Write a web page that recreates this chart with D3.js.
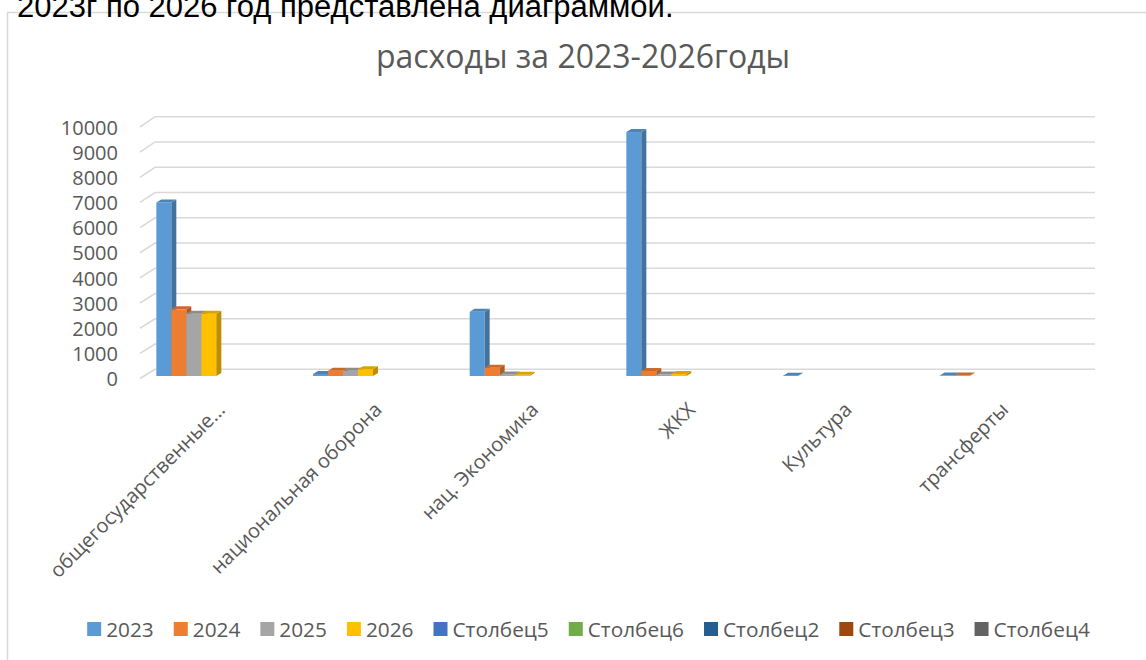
<!DOCTYPE html>
<html>
<head>
<meta charset="utf-8">
<script src="https://cdnjs.cloudflare.com/ajax/libs/d3/7.8.5/d3.min.js"></script>
<style>
    body { margin: 0; background: #ffffff; }
    svg { display: block; }
</style>
</head>
<body>
<div id="chart"></div>
<script>
var categories = ["общегосударственные...", "национальная оборона", "нац. Экономика", "ЖКХ", "Культура", "трансферты"];
var seriesNames = ["2023", "2024", "2025", "2026"];
var values2023 = [6900, 80, 2550, 9700, 10, 15];
var values2024 = [2650, 210, 330, 200, null, 15];
var values2025 = [2480, 210, 60, 60, null, null];
var values2026 = [2480, 270, 50, 80, null, null];
var seriesColors = ["#5b9bd5", "#ed7d31", "#a5a5a5", "#ffc000"];
var legendNames = ["2023", "2024", "2025", "2026", "Столбец5", "Столбец6", "Столбец2", "Столбец3", "Столбец4"];
var legendColors = ["#5b9bd5", "#ed7d31", "#a5a5a5", "#ffc000", "#4472c4", "#70ad47", "#255e91", "#9e480e", "#636363"];
var yTicks = [0, 1000, 2000, 3000, 4000, 5000, 6000, 7000, 8000, 9000, 10000];

var labelFont = "'Open Sans', 'Noto Sans', sans-serif";
var textColor = "#595959";

drawChart();

function drawChart() {
    var w = 1146, h = 660;
    var svg = d3.select("#chart").append("svg").attr("width", w).attr("height", h);

    svg.append("rect").attr("x", 7.5).attr("y", 12.5).attr("width", 1170).attr("height", 700)
        .attr("fill", "#ffffff").attr("stroke", "#d9d9d9").attr("stroke-width", 1.5);

    // строка текста документа над диаграммой (обрезана сверху, как на скриншоте)
    svg.append("text").attr("x", 17).attr("y", 17)
        .attr("font-family", "'Liberation Sans', Arial, sans-serif").attr("font-size", 31)
        .attr("fill", "#000000").text("2023г по 2026 год представлена диаграммой.");

    svg.append("text").attr("x", 583).attr("y", 68).attr("text-anchor", "middle")
        .attr("font-family", labelFont).attr("font-size", 32).attr("fill", textColor)
        .text("расходы за 2023-2026годы");

    var x0 = d3.scaleBand().domain(categories).range([108, 1048]);
    var groupWidth = 60;
    var x1 = d3.scaleBand().domain(seriesNames).range([0, groupWidth]);
    var yFront = d3.scaleLinear().domain([0, 10000]).range([376, 124.5]);
    var yBack = d3.scaleLinear().domain([0, 10000]).range([369.3, 116.7]);
    var yEdge = d3.scaleLinear().domain([0, 10000]).range([378.5, 127]);

    // сетка на задней стенке + боковая стенка
    svg.append("g").selectAll("path").data(yTicks).enter().append("path")
        .attr("d", function (d) {
            return "M140," + yEdge(d) + "L155," + yBack(d) + "L1095," + yBack(d);
        })
        .attr("fill", "none").attr("stroke", "#d9d9d9").attr("stroke-width", 1.6);

    var yAxis = svg.append("g").attr("transform", "translate(118,0)")
        .call(d3.axisLeft(yEdge).tickValues(yTicks).tickSize(0).tickPadding(0).tickFormat(d3.format("d")));
    yAxis.select(".domain").remove();
    yAxis.selectAll("text").attr("font-family", labelFont).attr("font-size", 20).attr("fill", textColor).attr("dy", "0.36em");

    var allValues = [values2023, values2024, values2025, values2026];
    var bars = [];
    seriesNames.forEach(function (s, si) {
        categories.forEach(function (c, ci) {
            var v = allValues[si][ci];
            if (v !== null) bars.push({ cat: c, series: s, value: v, color: seriesColors[si] });
        });
    });

    var dx = 5, dy = -3;
    var barW = x1.bandwidth();
    var base = yFront(0);
    var barG = svg.append("g").selectAll("g").data(bars).enter().append("g");
    function barX(d) {
        return x0(d.cat) + (x0.bandwidth() - groupWidth) / 2 + x1(d.series);
    }
    barG.append("rect")
        .attr("x", barX)
        .attr("y", function (d) { return yFront(d.value); })
        .attr("width", barW)
        .attr("height", function (d) { return Math.max(0, base - yFront(d.value)); })
        .attr("fill", function (d) { return d.color; });
    barG.append("path")
        .attr("d", function (d) {
            var x = barX(d) + barW, t = yFront(d.value);
            return "M" + x + "," + t + "L" + (x + dx) + "," + (t + dy) + "L" + (x + dx) + "," + (base + dy) + "L" + x + "," + base + "Z";
        })
        .attr("fill", function (d) { return d3.color(d.color).darker(0.85); });
    barG.append("path")
        .attr("d", function (d) {
            var x = barX(d), t = yFront(d.value);
            return "M" + x + "," + t + "L" + (x + dx) + "," + (t + dy) + "L" + (x + barW + dx) + "," + (t + dy) + "L" + (x + barW) + "," + t + "Z";
        })
        .attr("fill", function (d) { return d3.color(d.color).darker(0.45); });

    // подписи категорий под углом
    svg.append("g").selectAll("text").data(categories).enter().append("text")
        .attr("transform", function (d) {
            return "translate(" + (x0(d) + x0.bandwidth() / 2 + 40) + ",411) rotate(-45)";
        })
        .attr("text-anchor", "end")
        .attr("font-family", labelFont).attr("font-size", 20).attr("fill", textColor)
        .text(function (d) { return d; });

    // легенда
    var legend = svg.append("g");
    var lx = 0;
    legendNames.forEach(function (name, i) {
        legend.append("rect").attr("x", lx).attr("y", 622).attr("width", 14).attr("height", 14)
            .attr("fill", legendColors[i]);
        var t = legend.append("text").attr("x", lx + 19).attr("y", 636.5)
            .attr("font-family", labelFont).attr("font-size", 20.8).attr("fill", textColor).text(name);
        lx += 19 + t.node().getComputedTextLength() + 20;
    });
    var legendW = lx - 20;
    legend.attr("transform", "translate(" + (588.5 - legendW / 2) + ",0)");
}
</script>
</body>
</html>
